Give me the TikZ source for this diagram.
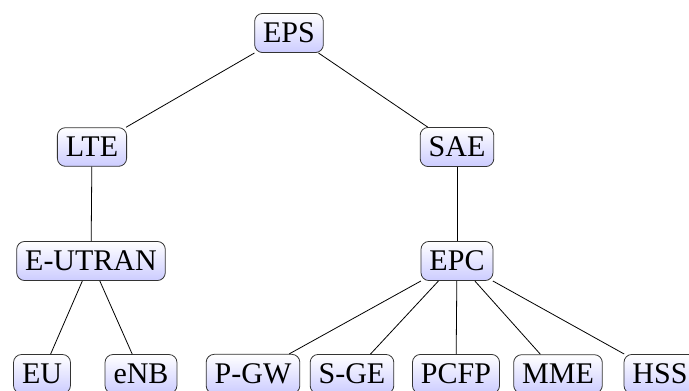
\documentclass[tikz,border=0pt]{standalone}
\usepackage{fontspec}
\setmainfont{Liberation Serif}
\begin{document}
\begin{tikzpicture}[x=1pt,y=-1pt,
  box/.style={draw=black!80, line width=0.8pt, rounded corners=8pt,
    top color=white, bottom color=blue!20,
    inner xsep=8.5pt, inner ysep=9.5pt,
    font=\fontsize{30}{35}\selectfont},
  link/.style={draw=black, line width=0.8pt}]
\useasboundingbox (0,0) rectangle (689,391);
\clip (0,0) rectangle (689,391);
% level 0
\node[box] (eps) at (289,33) {EPS};
% level 1
\node[box] (lte) at (92,147) {LTE};
\node[box] (sae) at (457,147) {SAE};
% level 2
\node[box] (eutran) at (91,261) {E-UTRAN};
\node[box] (epc) at (457,261) {EPC};
% level 3
\node[box] (eu) at (42,374) {EU};
\node[box] (enb) at (141,374) {eNB};
\node[box] (pgw) at (253,374) {P-GW};
\node[box] (sge) at (352,374) {S-GE};
\node[box] (pcfp) at (456,374) {PCFP};
\node[box] (mme) at (558,374) {MME};
\node[box] (hss) at (660,374) {HSS};
% connectors
\draw[link] (eps) -- (lte);
\draw[link] (eps) -- (sae);
\draw[link] (lte) -- (eutran);
\draw[link] (sae) -- (epc);
\draw[link] (eutran) -- (eu);
\draw[link] (eutran) -- (enb);
\draw[link] (epc) -- (pgw);
\draw[link] (epc) -- (sge);
\draw[link] (epc) -- (pcfp);
\draw[link] (epc) -- (mme);
\draw[link] (epc) -- (hss);
\end{tikzpicture}
\end{document}
